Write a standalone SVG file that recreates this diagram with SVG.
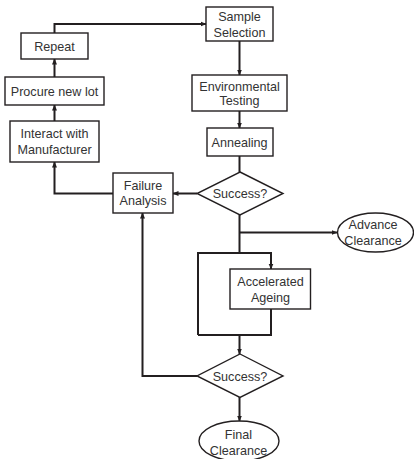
<svg xmlns="http://www.w3.org/2000/svg" width="414" height="459" viewBox="0 0 414 459">
<defs>
<marker id="ah" markerUnits="userSpaceOnUse" markerWidth="6" markerHeight="6" refX="5.5" refY="3" orient="auto">
<path d="M0,0.5 L6,3 L0,5.5 z" fill="#231f20"/>
</marker>
<style>
.n{fill:#fff;stroke:#231f20;stroke-width:1.4}
.c{fill:none;stroke:#231f20;stroke-width:2}
.a{marker-end:url(#ah)}
text{font-family:"Liberation Sans",Arial,sans-serif;font-size:12.6px;fill:#333;text-anchor:middle}
</style>
</defs>
<rect width="414" height="459" fill="#fff"/>
<g id="connectors">
<path class="c a" d="M54.5,33 V24 H206"/>
<path class="c a" d="M239.5,41 V75"/>
<path class="c a" d="M239.5,111 V128"/>
<path class="c" d="M239.5,156 V172"/>
<path class="c a" d="M197,193.5 H173"/>
<path class="c a" d="M113,193.5 H54.5 V162"/>
<path class="c a" d="M54.5,121 V105"/>
<path class="c a" d="M54.5,77 V59"/>
<path class="c" d="M239.5,215 V253"/>
<path class="c a" d="M239.5,232.5 H337"/>
<path class="c a" d="M198,335 V253 H271 V269"/>
<path class="c" d="M271,309 V335 H198"/>
<path class="c a" d="M239.5,335 V354"/>
<path class="c a" d="M197,376 H142.5 V213"/>
<path class="c a" d="M239.5,397 V421"/>
</g>
<g id="repeat"><rect class="n" x="21" y="33" width="67" height="26"/><text x="54.5" y="50.5">Repeat</text></g>
<g id="procure"><rect class="n" x="5" y="77" width="99" height="28"/><text x="54.5" y="95.5">Procure new lot</text></g>
<g id="interact"><rect class="n" x="10" y="121" width="89" height="41"/><text x="54.5" y="138">Interact with</text><text x="54.5" y="154">Manufacturer</text></g>
<g id="sample"><rect class="n" x="206" y="7" width="67" height="34"/><text x="239.5" y="21">Sample</text><text x="239.5" y="36.5">Selection</text></g>
<g id="env"><rect class="n" x="192" y="75" width="95" height="36"/><text x="239.5" y="90.5">Environmental</text><text x="239.5" y="105">Testing</text></g>
<g id="anneal"><rect class="n" x="207" y="128" width="66" height="28"/><text x="239.5" y="147">Annealing</text></g>
<g id="success1"><polygon class="n" points="240,172 283,193.5 240,215 197,193.5"/><text x="240" y="198">Success?</text></g>
<g id="failure"><rect class="n" x="113" y="173" width="60" height="40"/><text x="143" y="189.5">Failure</text><text x="143" y="205">Analysis</text></g>
<g id="advance"><ellipse class="n" cx="375.5" cy="232.5" rx="38" ry="19.5"/><text x="373" y="228.8">Advance</text><text x="373" y="244.5">Clearance</text></g>
<g id="ageing"><rect class="n" x="230" y="269" width="80.5" height="40"/><text x="270.5" y="286">Accelerated</text><text x="270.5" y="301.8">Ageing</text></g>
<g id="success2"><polygon class="n" points="240,354 283,376 240,397.5 197,376"/><text x="240" y="380.5">Success?</text></g>
<g id="final"><ellipse class="n" cx="239" cy="441" rx="40" ry="20"/><text x="238.5" y="439">Final</text><text x="238.5" y="455">Clearance</text></g>
</svg>
